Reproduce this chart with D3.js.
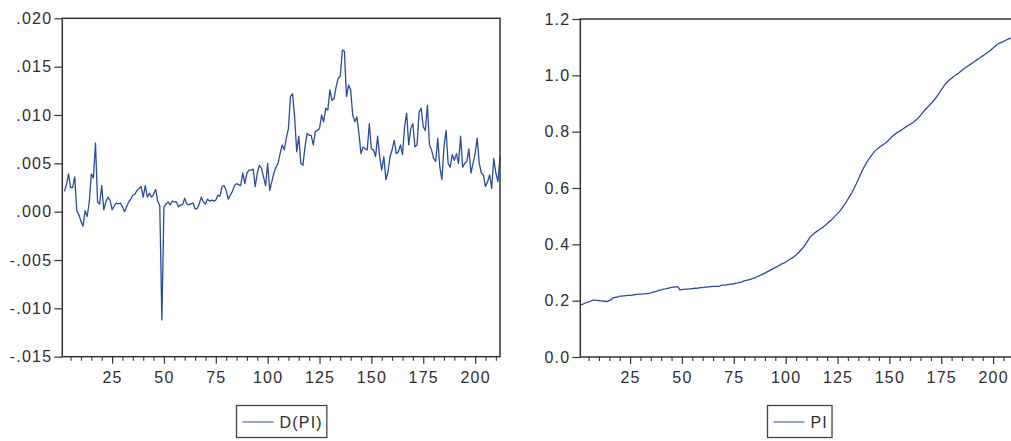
<!DOCTYPE html>
<html><head><meta charset="utf-8">
<script src="https://cdn.jsdelivr.net/npm/d3@7"></script>
<style>
body{margin:0;background:#fff}
svg text{font-family:"Liberation Sans",Arial,sans-serif;font-size:16px;fill:#2e2e2e;letter-spacing:1.2px}
</style></head><body><svg id="c" width="1011" height="441"></svg>
<script>
// ---- data ----
const obsCount = 212;
const dpiFirstObs = 2;
const dpiValues = [
 0.0021,0.0028,0.0039,0.0025,0.0025,0.0036,0.0001,-0.0003,-0.0010,-0.0015,
 0.0001,-0.0005,0.0010,0.0039,0.0035,0.0071,0.0010,0.0008,0.0027,0.0002,
 0.0010,0.0015,0.0012,0.0002,0.0006,0.0009,0.0008,0.0009,0.0005,0.0000,
 0.0005,0.0010,0.0013,0.0017,0.0018,0.0022,0.0024,0.0026,0.0015,0.0027,
 0.0015,0.0019,0.0015,0.0018,0.0023,0.0011,0.0006,-0.0112,
 0.0005,0.0008,0.0010,0.0007,0.0011,0.0010,0.0010,0.0005,0.0007,0.0007,
 0.0014,0.0008,0.0007,0.0008,0.0009,0.0003,0.0003,0.0008,0.0015,0.0010,
 0.0008,0.0013,0.0011,0.0012,0.0011,0.0012,0.0017,0.0016,0.0026,0.0027,
 0.0022,0.0013,0.0017,0.0021,0.0027,0.0029,0.0028,
 0.0027,0.0040,0.0029,0.0040,0.0043,0.0043,0.0044,0.0026,0.0040,0.0048,
 0.0045,0.0036,0.0027,0.0050,0.0022,0.0031,0.0040,0.0046,0.0050,0.0060,
 0.0069,0.0064,0.0076,0.0086,0.0119,0.0122,0.0098,0.0062,0.0078,
 0.0050,0.0048,0.0067,0.0081,0.0079,0.0079,0.0069,0.0083,0.0084,0.0086,
 0.0100,0.0093,0.0107,0.0105,0.0126,0.0115,0.0117,0.0129,0.0138,0.0140,
 0.0167,0.0166,0.0119,0.0131,0.0126,0.0100,0.0093,0.0098,0.0081,0.0060,
 0.0067,0.0065,0.0064,0.0091,0.0065,0.0064,0.0057,0.0078,0.0057,0.0043,
 0.0057,0.0033,0.0041,0.0057,0.0064,0.0074,0.0060,0.0062,0.0069,0.0059,
 0.0088,0.0102,0.0069,0.0086,0.0091,0.0067,0.0069,0.0103,0.0107,0.0088,
 0.0084,0.0110,0.0069,0.0064,0.0055,0.0052,0.0076,0.0046,0.0033,0.0067,
 0.0084,0.0050,0.0046,0.0059,0.0053,0.0060,0.0050,0.0078,0.0046,0.0050,
 0.0052,0.0065,0.0040,0.0050,0.0060,0.0076,0.0050,0.0040,0.0038,
 0.0026,0.0031,0.0038,0.0024,0.0055,0.0040,0.0031,0.0057
];
const piFirstObs = 1;
const piValues = [
 0.185,0.187,0.190,0.194,0.196,0.198,0.202,0.202,0.201,0.200,
 0.199,0.198,0.198,0.197,0.201,0.204,0.211,0.212,0.213,0.216,
 0.216,0.217,0.218,0.219,0.219,0.220,0.221,0.222,0.223,0.223,
 0.223,0.224,0.225,0.226,0.228,0.230,0.232,0.234,0.237,0.238,
 0.241,0.242,0.244,0.245,0.247,0.248,0.249,0.250,0.238,0.239,
 0.240,0.241,0.241,0.242,0.243,0.244,0.244,0.245,0.246,0.246,
 0.248,0.248,0.249,0.250,0.251,0.251,0.251,0.252,0.254,0.255,
 0.255,0.257,0.258,0.259,0.260,0.262,0.263,0.265,0.267,0.270,
 0.272,0.274,0.276,0.278,0.281,0.284,0.287,0.291,0.294,0.298,
 0.302,0.306,0.310,0.314,0.318,0.321,0.326,0.330,0.333,0.337,
 0.342,0.347,0.351,0.356,0.362,0.369,0.377,0.385,0.394,0.405,
 0.417,0.428,0.434,0.440,0.446,0.451,0.456,0.461,0.467,0.474,
 0.480,0.486,0.494,0.502,0.509,0.517,0.527,0.537,0.548,0.560,
 0.572,0.585,0.599,0.614,0.630,0.647,0.663,0.677,0.690,0.702,
 0.712,0.722,0.731,0.738,0.744,0.749,0.754,0.759,0.765,0.772,
 0.780,0.787,0.793,0.798,0.802,0.807,0.812,0.817,0.822,0.826,
 0.831,0.836,0.842,0.849,0.858,0.867,0.876,0.884,0.891,0.899,
 0.907,0.916,0.926,0.937,0.948,0.959,0.969,0.977,0.984,0.990,
 0.996,1.001,1.006,1.012,1.018,1.024,1.029,1.034,1.039,1.044,
 1.049,1.054,1.059,1.064,1.069,1.074,1.079,1.085,1.091,1.097,
 1.103,1.110,1.114,1.117,1.120,1.124,1.128,1.131,1.133,1.136,
 1.138,1.142
];
const xMajorTicks = [25,50,75,100,125,150,175,200];
const dpiTicks = [-0.015,-0.010,-0.005,0.000,0.005,0.010,0.015,0.020];
const piTicks = [0.0,0.2,0.4,0.6,0.8,1.0,1.2];
const seriesNames = ["D(PI)","PI"];

// ---- drawing ----
const svg = d3.select("#c");
const lineColor = "#2b4aa8";
const axisColor = "#333";
const xMinorTicks = d3.range(5, obsCount, 5).filter(v => v % 25 !== 0);

const fmtDpi = v => d3.format(".3f")(v).replace(/\u2212/g, "-").replace(/^(-?)0\./, "$1.");
const fmtPi = d3.format(".1f");

function drawPanel(cfg) {
  const g = svg.append("g");
  const x = d3.scaleLinear().domain([1, obsCount]).range([cfg.x0, cfg.x1]);
  const y = d3.scaleLinear().domain([cfg.ticks[0], cfg.ticks[cfg.ticks.length - 1]]).range([cfg.y1, cfg.y0]);
  const data = cfg.values.map((v, i) => ({obs: cfg.first + i, v}));

  g.append("path").datum(data)
    .attr("fill", "none").attr("stroke", lineColor).attr("stroke-width", 1.3)
    .attr("stroke-linejoin", "round")
    .attr("d", d3.line().x(d => x(d.obs)).y(d => y(d.v)));

  g.append("rect")
    .attr("x", cfg.x0).attr("y", cfg.y0)
    .attr("width", cfg.x1 - cfg.x0).attr("height", cfg.y1 - cfg.y0)
    .attr("fill", "none").attr("stroke", axisColor).attr("stroke-width", 1.5);

  const ya = g.append("g").attr("transform", `translate(${cfg.x0},0)`)
    .attr("color", axisColor)
    .call(d3.axisLeft(y).tickValues(cfg.ticks).tickFormat(cfg.fmt).tickSize(8).tickPadding(2));
  ya.select(".domain").remove();
  ya.selectAll("line").attr("stroke-width", 1.2);

  const xa = g.append("g").attr("transform", `translate(0,${cfg.y1})`)
    .attr("color", axisColor)
    .call(d3.axisBottom(x).tickValues(xMajorTicks).tickFormat(d3.format("d")).tickSize(7).tickPadding(8));
  xa.select(".domain").remove();
  xa.selectAll("line").attr("stroke-width", 1.2);

  const xm = g.append("g").attr("transform", `translate(0,${cfg.y1})`)
    .attr("color", axisColor)
    .call(d3.axisBottom(x).tickValues(xMinorTicks).tickFormat("").tickSize(4));
  xm.select(".domain").remove();
  xm.selectAll("line").attr("stroke-width", 1.1);

  // legend
  const lg = g.append("g");
  const t = lg.append("text").text(cfg.name);
  const tw = t.node().getComputedTextLength();
  const w = 6 + 31 + 6 + tw + 4;
  const cx = (cfg.x0 + cfg.x1) / 2;
  const left = Math.round(cx - w / 2) + 0.5;
  const top = 405.5, h = 32;
  lg.insert("rect", "text").attr("x", left).attr("y", top).attr("width", w).attr("height", h)
    .attr("fill", "#fff").attr("stroke", "#444").attr("stroke-width", 1.3);
  lg.append("line").attr("x1", left + 6).attr("x2", left + 37).attr("y1", 422).attr("y2", 422)
    .attr("stroke", lineColor).attr("stroke-width", 1.3).attr("opacity", 0.75);
  t.attr("x", left + 43).attr("y", 427.5);
}

drawPanel({name: seriesNames[0], values: dpiValues, first: dpiFirstObs, ticks: dpiTicks, fmt: fmtDpi,
  x0: 62.3, x1: 500, y0: 18.3, y1: 356.7});
drawPanel({name: seriesNames[1], values: piValues, first: piFirstObs, ticks: piTicks, fmt: fmtPi,
  x0: 580.3, x1: 1018, y0: 19, y1: 357});
</script></body></html>
